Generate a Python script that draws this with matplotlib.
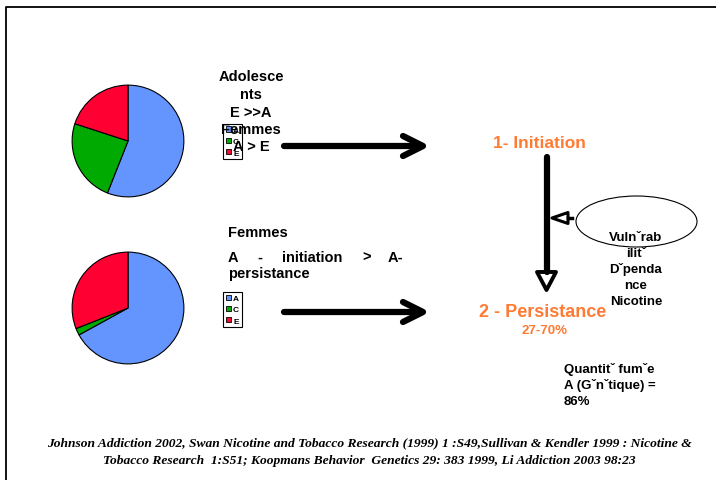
import matplotlib
matplotlib.use("Agg")
import matplotlib.pyplot as plt
from matplotlib.patches import Ellipse, Polygon

plt.rcParams['font.family'] = ['Liberation Sans', 'DejaVu Sans']

# pie data (A, C, E shares)
labels = ["A", "C", "E"]
colors = ["#6495FF", "#00AA00", "#FF0033"]
adolescents = [56, 24, 20]
femmes = [67, 2, 31]

orange = "#FF7A33"
W, H = 716, 481

fig = plt.figure(figsize=(W / 100, H / 100), dpi=100)
fig.patch.set_facecolor("white")


def pie_axes(cx, cy, r, values, leg_x, leg_y):
    ax = fig.add_axes([(cx - r) / W, 1 - (cy + r) / H, 2 * r / W, 2 * r / H])
    wedges, _ = ax.pie(values, colors=colors, startangle=90, counterclock=False,
                       wedgeprops=dict(edgecolor="black", linewidth=0.8))
    ax.set_xlim(-1.02, 1.02)
    ax.set_ylim(-1.02, 1.02)
    leg = ax.legend(wedges, labels, loc="upper left",
                    bbox_to_anchor=(leg_x / W, 1 - leg_y / H),
                    bbox_transform=fig.transFigure,
                    prop=dict(size=6, weight="bold"), handlelength=0.6,
                    handleheight=0.6, handletextpad=0.3, borderpad=0.3,
                    labelspacing=0.45, borderaxespad=0, fancybox=False,
                    framealpha=1, edgecolor="black")
    leg.get_frame().set_linewidth(0.8)
    for h in leg.legend_handles:
        h.set_linewidth(0.6)
    return ax


pie_axes(128, 142, 57, adolescents, 223, 125)
pie_axes(128, 309, 57, femmes, 223, 293)

# overlay axes in pixel coordinates
ax = fig.add_axes([0, 0, 1, 1], zorder=5)
ax.patch.set_alpha(0)
ax.set_xlim(0, W)
ax.set_ylim(H, 0)
ax.axis("off")

# slide frame
ax.plot([6, 6, W], [H, 8, 8], color="black", lw=1.3)

bold = dict(fontweight="bold", fontsize=10.5, color="black")
for txt, y in [("Adolesce", 77), ("nts", 95), ("E >>A", 113), ("Femmes", 130), ("A > E", 147)]:
    ax.text(251, y, txt, ha="center", va="center", **bold)

ax.text(228, 233, "Femmes", ha="left", va="center", **bold)
for txt, x in [("A", 228), ("-", 257), ("initiation", 282), (">", 362), ("A-", 388)]:
    ax.text(x, 258, txt, ha="left", va="center", **bold)
ax.text(228, 274, "persistance", ha="left", va="center", **bold)

# horizontal arrows
for y in (147, 313):
    ax.plot([284, 421], [y, y], color="black", lw=4.5, solid_capstyle="round")
    ax.plot([403, 423, 403], [y - 10, y, y + 10], color="black", lw=4.5,
            solid_capstyle="round", solid_joinstyle="round")

# vertical arrow
ax.plot([546.5, 546.5], [158, 273], color="black", lw=4.5, solid_capstyle="round")
ax.add_patch(Polygon([[537, 273], [556, 273], [546.5, 291]], closed=True,
                     facecolor="white", edgecolor="black", lw=2.8, joinstyle="round"))

# small arrow from the ellipse
ax.add_patch(Polygon([[552, 219], [568, 213.5], [568, 224.5]], closed=True,
                     facecolor="white", edgecolor="black", lw=2.2, joinstyle="round"))
ax.plot([568, 572], [219, 219], color="black", lw=2.5)

ax.add_patch(Ellipse((636.5, 222.5), 121, 51, facecolor="white", edgecolor="black", lw=0.8))

ax.text(539, 144, "1- Initiation", ha="center", va="center", color=orange,
        fontsize=12.5, fontweight="bold")
ax.text(543, 313, "2 - Persistance", ha="center", va="center", color=orange,
        fontsize=13, fontweight="bold")
ax.text(544, 331, "27-70%", ha="center", va="center", color=orange,
        fontsize=9.5, fontweight="bold")

small = dict(fontweight="bold", fontsize=9.5, color="black")
for txt, y in [("Vulnˇrab", 238), ("ilitˇ", 254), ("Dˇpenda", 270), ("nce", 286), ("Nicotine", 302)]:
    ax.text(636, y, txt, ha="center", va="center", **small)

for txt, y in [("Quantitˇ fumˇe", 370), ("A (Gˇnˇtique) =", 386), ("86%", 402)]:
    ax.text(564, y, txt, ha="left", va="center", **small)

foot = dict(fontsize=9.7, fontweight="bold", style="italic",
            family=["Liberation Serif", "DejaVu Serif"], ha="center", va="center")
ax.text(369, 443, "Johnson Addiction 2002, Swan Nicotine and Tobacco Research (1999) 1 :S49,"
        "Sullivan & Kendler 1999 : Nicotine &", **foot)
ax.text(369, 461, "Tobacco Research  1:S51; Koopmans Behavior  Genetics 29: 383 1999, "
        "Li Addiction 2003 98:23", **foot)

fig.savefig("out.png", dpi=100)
